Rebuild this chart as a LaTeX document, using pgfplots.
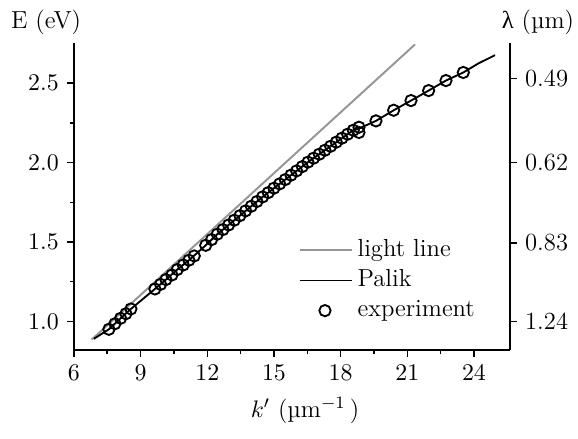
\documentclass[border=0pt]{standalone}
\usepackage{pgfplots}
\pgfplotsset{compat=1.18}
\usepackage{fontspec}
\newfontfamily\grk{Liberation Serif}
\definecolor{lgray}{RGB}{150,150,150}
\pgfplotsset{
  lineleg/.style={legend image code/.code={\draw[##1] (0pt,0pt) -- (24pt,0pt);}},
  markleg/.style={legend image code/.code={\draw[##1] plot coordinates {(11.5pt,0pt)};}},
}

\pgfplotstableread{
k E
6.80 0.885
21.35 2.745
}\lightline

\pgfplotstableread{
k E
6.90 0.890
7.575 0.950
8.10 1.019
8.565 1.078
9.645 1.204
10.14 1.263
10.65 1.326
11.175 1.385
11.93 1.479
12.45 1.549
12.96 1.607
13.47 1.666
13.98 1.725
14.49 1.784
15.00 1.839
15.51 1.893
16.02 1.948
16.53 2.003
17.04 2.053
17.55 2.103
18.06 2.154
18.57 2.204
18.83 2.215
19.59 2.263
20.39 2.330
21.17 2.391
21.96 2.454
22.74 2.517
23.52 2.568
24.20 2.625
24.95 2.677
}\palik

\pgfplotstableread{
k E
7.575 0.950
7.845 0.985
8.100 1.019
8.340 1.048
8.565 1.078
9.645 1.204
9.900 1.233
10.14 1.263
10.41 1.292
10.65 1.326
10.92 1.355
11.175 1.385
11.415 1.412
11.93 1.479
12.195 1.515
12.45 1.549
12.705 1.578
12.96 1.607
13.215 1.637
13.47 1.666
13.725 1.696
13.98 1.725
14.235 1.755
14.49 1.784
14.745 1.811
15.00 1.839
15.256 1.866
15.51 1.893
15.766 1.921
16.02 1.948
16.275 1.975
16.53 2.003
16.786 2.028
17.04 2.053
17.296 2.078
17.55 2.103
17.805 2.129
18.06 2.154
18.316 2.179
18.57 2.204
18.826 2.223
18.826 2.190
19.59 2.263
20.386 2.330
21.166 2.391
21.96 2.454
22.74 2.517
23.52 2.568
}\expt

\begin{document}
\fontsize{11.3}{13.6}\selectfont
\begin{tikzpicture}
\begin{axis}[
  name=main,
  scale only axis, width=200pt, height=141pt,
  xmin=6, xmax=25.62, ymin=0.817, ymax=2.754,
  axis x line*=bottom, axis y line*=left,
  tick align=outside,
  xtick={6,9,...,24}, minor x tick num=1,
  ytick={1.0,1.5,2.0,2.5}, minor y tick num=1,
  yticklabel style={/pgf/number format/.cd,fixed,fixed zerofill,precision=1},
  major tick length=3pt, minor tick length=1.8pt,
  axis line style={line width=0.9pt},
  every tick/.style={black, line width=0.7pt},
  clip=false,
  legend style={draw=none, fill=none, at={(rel axis cs:0.515,0.375)}, anchor=north west,
    inner sep=0pt, row sep=0.1pt,
    nodes={text height=7.7pt, text depth=2pt, inner sep=2pt}},
  legend cell align=left,
]
\addplot[lgray, line width=0.9pt, lineleg] table[x=k,y=E] {\lightline};
\addlegendentry{light line}
\addplot[black, line width=0.85pt, lineleg] table[x=k,y=E] {\palik};
\addlegendentry{Palik}
\addplot[only marks, mark=o, mark size=2.6pt, mark options={fill=white, line width=0.85pt, draw=black}, markleg] table[x=k,y=E] {\expt};
\addlegendentry{experiment}
\node at (rel axis cs:0,1) [xshift=-12.8pt, yshift=9.6pt] {E (eV)};
\node at (rel axis cs:1,1) [xshift=12.8pt, yshift=9.6pt] {{\grk λ} (µm)};
\node at (rel axis cs:0.53,0) [yshift=-27.5pt] {$k'$ (µm$^{-1}$\,)};
\end{axis}
\begin{axis}[
  scale only axis, width=200pt, height=141pt,
  xmin=6, xmax=25.62, ymin=0.817, ymax=2.754,
  axis y line*=right, axis x line=none,
  tick align=outside,
  ytick={0.99984,1.4937,1.9997,2.5302},
  yticklabels={1.24,0.83,0.62,0.49},
  major tick length=3pt,
  axis line style={line width=0.9pt},
  every tick/.style={black, line width=0.7pt},
]
\end{axis}
\pgfresetboundingbox
\path ([shift={(-33.9pt,-40.4pt)}]main.south west) rectangle ([shift={(31.2pt,19.7pt)}]main.north east);
\end{tikzpicture}
\end{document}
